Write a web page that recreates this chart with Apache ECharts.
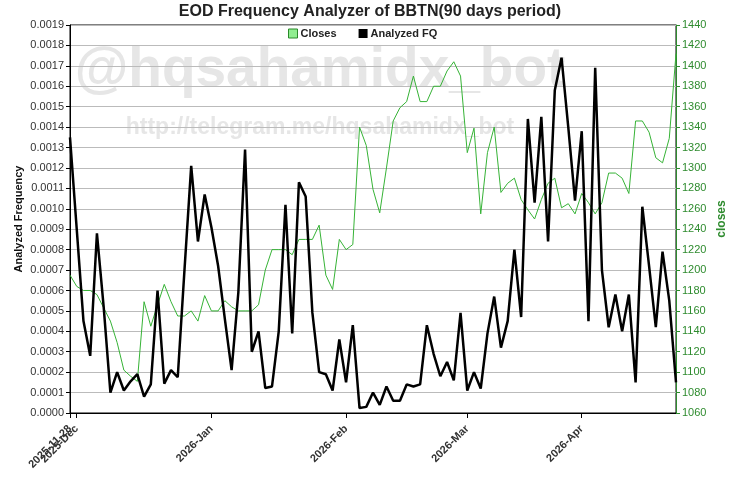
<!DOCTYPE html>
<html><head><meta charset="utf-8">
<script src="https://cdn.jsdelivr.net/npm/echarts@6/dist/echarts.min.js"></script>
<style>html,body{margin:0;padding:0;background:#fff}#c{width:740px;height:480px}</style>
</head><body><div id="c"></div>
<script>
const titleText = 'EOD Frequency Analyzer of BBTN(90 days period)';
const dates = [
'2025-11-28',
'2025-12-01','2025-12-02','2025-12-03','2025-12-04','2025-12-05','2025-12-08','2025-12-09','2025-12-10','2025-12-11','2025-12-12',
'2025-12-15','2025-12-16','2025-12-17','2025-12-18','2025-12-19','2025-12-22','2025-12-23','2025-12-24','2025-12-29','2025-12-30',
'2026-01-02','2026-01-05','2026-01-06','2026-01-07','2026-01-08','2026-01-09','2026-01-12','2026-01-13','2026-01-14','2026-01-15',
'2026-01-19','2026-01-20','2026-01-21','2026-01-22','2026-01-23','2026-01-26','2026-01-27','2026-01-28','2026-01-29','2026-01-30',
'2026-02-02','2026-02-03','2026-02-04','2026-02-05','2026-02-06','2026-02-09','2026-02-10','2026-02-11','2026-02-12','2026-02-13',
'2026-02-18','2026-02-19','2026-02-20','2026-02-23','2026-02-24','2026-02-25','2026-02-26','2026-02-27',
'2026-03-02','2026-03-03','2026-03-04','2026-03-05','2026-03-06','2026-03-09','2026-03-10','2026-03-11','2026-03-12','2026-03-13',
'2026-03-16','2026-03-17','2026-03-25','2026-03-26','2026-03-27','2026-03-30','2026-03-31',
'2026-04-01','2026-04-02','2026-04-06','2026-04-07','2026-04-08','2026-04-09','2026-04-10','2026-04-13','2026-04-14','2026-04-15',
'2026-04-16','2026-04-17','2026-04-20','2026-04-21','2026-04-22'
];
const closes = [
1195, 1184, 1180, 1180, 1176, 1163, 1150, 1129, 1102, 1096,
1091, 1169, 1145, 1166, 1186, 1169, 1155, 1155, 1160, 1150,
1175, 1160, 1160, 1170, 1164, 1160, 1160, 1160, 1166, 1200,
1220, 1220, 1220, 1215, 1230, 1230, 1230, 1244, 1195, 1181,
1230, 1220, 1225, 1340, 1322, 1279, 1256, 1300, 1346, 1359,
1365, 1390, 1365, 1365, 1380, 1380, 1395, 1404, 1390, 1315,
1339, 1255, 1315, 1340, 1276, 1285, 1290, 1269, 1259, 1250,
1269, 1285, 1290, 1261, 1265, 1255, 1275, 1266, 1255, 1266,
1295, 1295, 1290, 1275, 1346, 1346, 1335, 1310, 1305, 1329,
1412
];
const analyzedFQ = [
0.00135, 0.00090, 0.00045, 0.00028, 0.00088, 0.00052, 0.00010, 0.00020, 0.00011, 0.000155,
0.00019, 0.00008, 0.00014, 0.00060, 0.000144, 0.00021, 0.000175, 0.00070, 0.00121, 0.00084,
0.00107, 0.00091, 0.00072, 0.00046, 0.00021, 0.00059, 0.00129, 0.00030, 0.00040, 0.000122,
0.00013, 0.00040, 0.00102, 0.00039, 0.00113, 0.00106, 0.00049, 0.00020, 0.00019, 0.00011,
0.00036, 0.00015, 0.00043, 0.000024, 0.00003, 0.00010, 0.00004, 0.00013, 0.00006, 0.00006,
0.00014, 0.00013, 0.00014, 0.00043, 0.00029, 0.00018, 0.00025, 0.00016, 0.00049, 0.00011,
0.00020, 0.00012, 0.00039, 0.00057, 0.00032, 0.00045, 0.00080, 0.00047, 0.00144, 0.00103,
0.00145, 0.00084, 0.00158, 0.00174, 0.00140, 0.00104, 0.00138, 0.00045, 0.00169, 0.00070,
0.00042, 0.00058, 0.00040, 0.00058, 0.00015, 0.00101, 0.00072, 0.00042, 0.00079, 0.00055,
0.00015
];
const monthNames = ['Jan','Feb','Mar','Apr','May','Jun','Jul','Aug','Sep','Oct','Nov','Dec'];
const fqAxis = {min: 0, max: 0.0019, step: 0.0001};
const closeAxis = {min: 1060, max: 1440, step: 20};
const watermark1 = '@hqsahamidx_bot';
const watermark2 = 'http://telegram.me/hqsahamidx_bot';

const FONT = '"Liberation Sans", Arial, sans-serif';
const GREEN_LINE = '#36b336';
const GREEN_AXIS = '#2e8b2e';

function isMonthStart(idx) {
  return idx > 0 && dates[idx].slice(0, 7) !== dates[idx - 1].slice(0, 7);
}
function monthLabel(v) {
  return v.slice(0, 4) + '-' + monthNames[+v.slice(5, 7) - 1];
}
const xLabelStyle = {rotate: 45, margin: 14, fontSize: 11, fontWeight: 'bold', color: '#333', fontFamily: FONT, hideOverlap: false};

const chart = echarts.init(document.getElementById('c'), null, {renderer: 'canvas'});
chart.setOption({
  animation: false,
  backgroundColor: '#fff',
  textStyle: {fontFamily: FONT},
  title: {
    text: titleText, left: 'center', top: 4, padding: 0,
    textStyle: {fontSize: 16, fontWeight: 'bold', color: '#222', fontFamily: FONT}
  },
  graphic: [
    {type: 'text', z: -10, silent: true, x: 320, y: 71,
     style: {text: watermark1, fill: '#e6e6e6', font: 'bold 55px ' + FONT, textAlign: 'center', textVerticalAlign: 'middle'}},
    {type: 'text', z: -10, silent: true, x: 320, y: 128,
     style: {text: watermark2, fill: '#e6e6e6', font: 'bold 23px ' + FONT, textAlign: 'center', textVerticalAlign: 'middle'}}
  ],
  legend: {
    top: 28, left: 288, padding: 0, itemGap: 22, itemWidth: 9, itemHeight: 9,
    icon: 'rect',
    textStyle: {fontSize: 11, fontWeight: 'bold', color: '#222', fontFamily: FONT, padding: [0, 0, 0, -2]},
    data: [
      {name: 'Closes', itemStyle: {color: '#90ee90', borderColor: '#2a8a2a', borderWidth: 1}},
      {name: 'Analyzed FQ', itemStyle: {color: '#000'}}
    ]
  },
  grid: {left: 70, right: 64, top: 25, bottom: 67, show: true, borderColor: '#000', borderWidth: 1, backgroundColor: 'transparent'},
  xAxis: [
    {
      type: 'category', data: dates, boundaryGap: false, position: 'bottom',
      axisLine: {lineStyle: {color: '#000', width: 1}},
      axisTick: {show: true, length: 5, interval: (i) => isMonthStart(i), lineStyle: {color: '#000'}},
      axisLabel: Object.assign({}, xLabelStyle, {
        showMinLabel: true, showMaxLabel: true,
        interval: (i) => isMonthStart(i),
        formatter: (v) => monthLabel(v)
      }),
      splitLine: {show: false}
    },
    {
      type: 'category', data: dates, boundaryGap: false, position: 'bottom', offset: 0,
      axisLine: {show: false},
      axisTick: {show: true, length: 5, interval: (i) => i === 0, lineStyle: {color: '#000'}},
      axisLabel: Object.assign({}, xLabelStyle, {
        showMinLabel: true, showMaxLabel: true,
        interval: (i) => i === 0,
        formatter: (v) => v
      }),
      splitLine: {show: false}
    }
  ],
  yAxis: [
    {
      type: 'value', min: fqAxis.min, max: fqAxis.max, interval: fqAxis.step, position: 'left',
      name: 'Analyzed Frequency', nameLocation: 'middle', nameGap: 46, nameRotate: 90, nameMoveOverlap: false,
      nameTextStyle: {fontSize: 11, fontWeight: 'bold', color: '#111', fontFamily: FONT},
      axisLine: {show: true, lineStyle: {color: '#000'}},
      axisTick: {show: true, length: 4, lineStyle: {color: '#000'}},
      axisLabel: {fontSize: 11, color: '#333', margin: 6, fontFamily: FONT, formatter: (v) => v.toFixed(4)},
      splitLine: {show: true, lineStyle: {color: '#bbbbbb', width: 1}}
    },
    {
      type: 'value', min: closeAxis.min, max: closeAxis.max, interval: closeAxis.step, position: 'right',
      name: 'closes', nameLocation: 'middle', nameGap: 40, nameRotate: 90, nameMoveOverlap: false,
      nameTextStyle: {fontSize: 12, fontWeight: 'bold', color: GREEN_AXIS, fontFamily: FONT},
      axisLine: {show: true, lineStyle: {color: GREEN_AXIS}},
      axisTick: {show: true, length: 4, lineStyle: {color: GREEN_AXIS}},
      axisLabel: {fontSize: 11, color: GREEN_AXIS, margin: 6, fontFamily: FONT, formatter: (v) => String(v)},
      splitLine: {show: false}
    }
  ],
  series: [
    {name: 'Closes', type: 'line', xAxisIndex: 0, yAxisIndex: 1, data: closes, symbol: 'none',
     lineStyle: {color: GREEN_LINE, width: 1}, itemStyle: {color: '#90ee90'}, z: 2},
    {name: 'Analyzed FQ', type: 'line', xAxisIndex: 0, yAxisIndex: 0, data: analyzedFQ, symbol: 'none',
     lineStyle: {color: '#000', width: 2.5}, itemStyle: {color: '#000'}, z: 3}
  ]
});
</script>
</body></html>
